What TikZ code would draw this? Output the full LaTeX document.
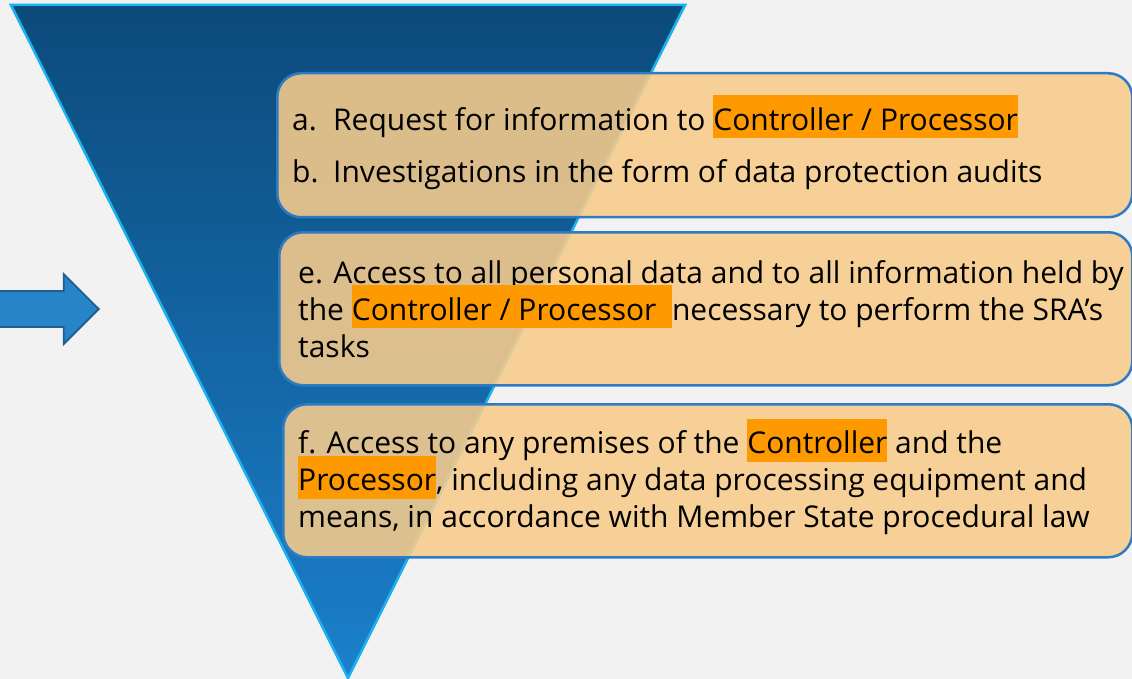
\documentclass[tikz,border=0pt]{standalone}
\usepackage{fontspec}
\setmainfont{Open Sans}
\usetikzlibrary{shapes.arrows,positioning}

\definecolor{bgGrey}{HTML}{F2F2F2}
\definecolor{funnelTop}{HTML}{0C4A7A}
\definecolor{funnelBot}{HTML}{1B80CC}
\definecolor{funnelLine}{HTML}{1AB2EE}
\definecolor{boxFill}{HTML}{F8CC8B}
\definecolor{boxLine}{HTML}{2E7BC4}
\definecolor{hlOrange}{HTML}{FF9900}
\definecolor{arrowFill}{HTML}{2784C6}
\definecolor{arrowLine}{HTML}{1F5F94}

% orange marker behind a word, height of a full line
\newsavebox{\hlbox}
\newcommand{\hlt}[1]{\sbox{\hlbox}{#1}\smash{\rlap{\textcolor{hlOrange}{\rule[-8pt]{\wd\hlbox}{43pt}}}}\usebox{\hlbox}}

\begin{document}
\begin{tikzpicture}[x=1pt,y=-1pt,
  power/.style={shape=rectangle, rounded corners=24pt, draw=boxLine, line width=2.5pt,
    fill=boxFill, fill opacity=0.88, anchor=north west, inner sep=0pt},
  powertext/.style={align=left, inner sep=0pt, font=\fontsize{30}{37}\selectfont}]

\useasboundingbox (0,0) rectangle (1132,679);
\fill [bgGrey] (0,0) rectangle (1132,679);

% Funnel
\shade [top color=funnelTop, bottom color=funnelBot, draw=funnelLine, line width=2.5pt]
  (11,5) -- (685,5) -- (348,678) -- cycle;

% Arrow on the left
\node [shape=single arrow, fill=arrowFill, draw=arrowLine, line width=1.8pt,
  inner xsep=0pt, inner ysep=17pt, minimum width=68pt, minimum height=130pt,
  single arrow head extend=17pt, single arrow head indent=0pt, anchor=tip] at (100,309) (inArrow) {};

% Boxes
\node [power, minimum width=855pt, minimum height=144pt] at (276,72) (boxA) {};
\node [power, minimum width=853pt, minimum height=153pt] at (278,231) (boxB) {};
\node [power, minimum width=849pt, minimum height=153pt] at (282,403) (boxC) {};

% Texts
\node [powertext, right=16pt of boxA.west, yshift=-3pt] (txtA) {%
  \makebox[41pt][l]{a.}Request for information to \hlt{Controller / Processor}\\[15pt]
  \makebox[41pt][l]{b.}Investigations in the form of data protection audits};
\node [powertext, right=20pt of boxB.west] (txtB) {%
  e. Access to all personal data and to all information held by\\
  the \hlt{Controller / Processor~~}necessary to perform the SRA’s\\
  tasks};
\node [powertext, right=16pt of boxC.west, yshift=-2pt] (txtC) {%
  f. Access to any premises of the \hlt{Controller} and the\\
  \hlt{Processor}, including any data processing equipment and\\
  means, in accordance with Member State procedural law};

\end{tikzpicture}
\end{document}
